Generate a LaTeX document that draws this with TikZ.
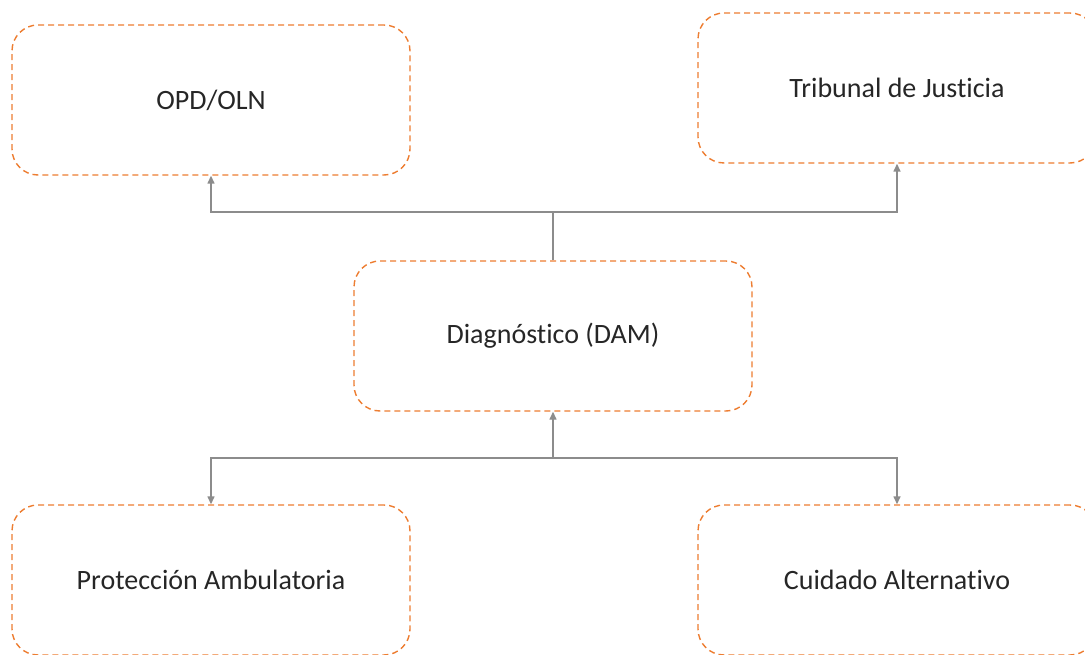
\documentclass[tikz,border=0pt]{standalone}
\usepackage{fontspec}
\setmainfont{Carlito}[Ligatures=NoCommon]
\usetikzlibrary{arrows.meta}
\definecolor{boxorange}{RGB}{237,125,49}
\definecolor{linegray}{RGB}{140,140,140}
\tikzset{
    stagebox/.style={draw=boxorange, line width=1.4pt, dash pattern=on 6pt off 4pt,
        rounded corners=26pt, minimum width=398pt, minimum height=150pt,
        font=\fontsize{28}{32}\selectfont, text=black!85},
    link/.style={draw=linegray, line width=1.4pt},
    linkarrow/.style={link, -{Triangle[length=8pt,width=7pt]}}
}
\begin{document}
\begin{tikzpicture}[x=1pt, y=-1pt]
    \useasboundingbox (0,0) rectangle (1085,655);

    \node[stagebox] (opd) at (211, 100){OPD/OLN};
    \node[stagebox] (tribunal) at (897, 88){Tribunal de Justicia};
    \node[stagebox] (dam) at (553, 336){Diagnóstico (DAM)};
    \node[stagebox] (proteccion) at (211, 580){Protección Ambulatoria};
    \node[stagebox] (cuidado) at (897, 580){Cuidado Alternativo};

    \coordinate (upper) at (553, 212);
    \coordinate (lower) at (553, 458);

    \draw[link] (dam.north) -- (upper);
    \draw[linkarrow] (upper) -| (opd.south);
    \draw[linkarrow] (upper) -| (tribunal.south);

    \draw[linkarrow] (lower) -- (dam.south);
    \draw[linkarrow] (lower) -| (proteccion.north);
    \draw[linkarrow] (lower) -| (cuidado.north);
\end{tikzpicture}
\end{document}
